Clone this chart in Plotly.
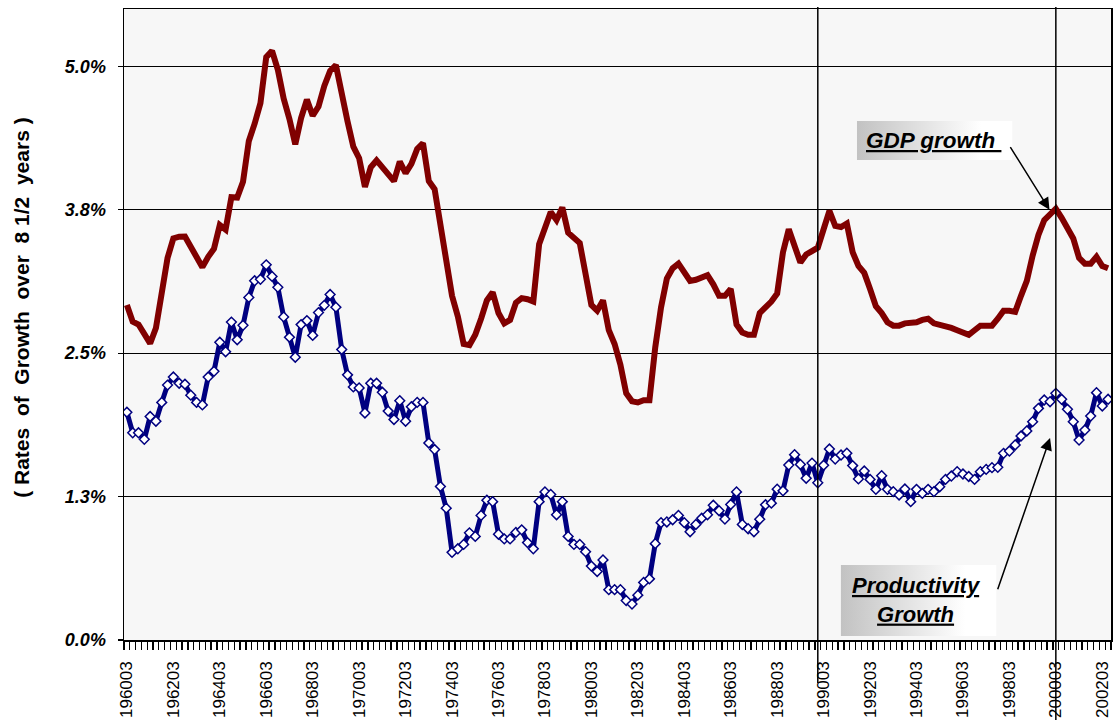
import plotly.graph_objects as go

# ---- data -------------------------------------------------------------
quarters = [f"{y}{m:02d}" for y in range(1960, 2003) for m in (3, 6, 9, 12)][:170]

gdp_growth = [
    2.92, 2.775, 2.75, 2.655, 2.585, 2.72, 2.99, 3.33, 3.50, 3.515,
    3.516, 3.43, 3.33, 3.25, 3.34, 3.41, 3.617, 3.577, 3.86, 3.856,
    3.995, 4.35, 4.50, 4.68, 5.08, 5.135, 4.97, 4.72, 4.54, 4.32,
    4.55, 4.71, 4.57, 4.65, 4.83, 4.96, 5.01, 4.73, 4.52, 4.30,
    4.20, 3.95, 4.12, 4.18, 4.12, 4.04, 4.00, 4.17, 4.07, 4.15,
    4.28, 4.33, 4.00, 3.93, 3.62, 3.38, 3.00, 2.82, 2.58, 2.57,
    2.66, 2.80, 2.96, 3.03, 2.85, 2.76, 2.79, 2.94, 2.98, 2.97,
    2.95, 3.45, 3.59, 3.73, 3.66, 3.77, 3.55, 3.51, 3.46, 3.19,
    2.92, 2.87, 2.96, 2.70, 2.58, 2.40, 2.15, 2.08, 2.07, 2.09,
    2.09, 2.55, 2.90, 3.15, 3.24, 3.28, 3.20, 3.13, 3.14, 3.16,
    3.18, 3.10, 3.00, 3.00, 3.06, 2.75, 2.68, 2.66, 2.66, 2.85,
    2.90, 2.95, 3.02, 3.38, 3.58, 3.45, 3.29, 3.36, 3.39, 3.42,
    3.58, 3.74, 3.61, 3.60, 3.63, 3.38, 3.26, 3.20, 3.06, 2.91,
    2.85, 2.77, 2.74, 2.74, 2.76, 2.76, 2.77, 2.79, 2.80, 2.76,
    2.75, 2.74, 2.72, 2.70, 2.68, 2.66, 2.70, 2.74, 2.74, 2.74,
    2.80, 2.87, 2.87, 2.86, 3.00, 3.13, 3.35, 3.53, 3.66, 3.72,
    3.76, 3.68, 3.60, 3.50, 3.33, 3.28, 3.28, 3.34, 3.26, 3.24,
]

productivity_growth = [
    1.985, 1.806, 1.806, 1.749, 1.948, 1.907, 2.071, 2.222, 2.292, 2.238,
    2.229, 2.134, 2.071, 2.049, 2.292, 2.342, 2.595, 2.513, 2.771, 2.617,
    2.743, 2.986, 3.131, 3.144, 3.270, 3.169, 3.074, 2.816, 2.639, 2.465,
    2.749, 2.784, 2.655, 2.854, 2.917, 3.011, 2.901, 2.532, 2.311, 2.206,
    2.197, 1.979, 2.238, 2.238, 2.159, 1.995, 1.922, 2.086, 1.907, 2.033,
    2.071, 2.071, 1.717, 1.660, 1.338, 1.149, 0.764, 0.795, 0.833, 0.934,
    0.903, 1.086, 1.218, 1.206, 0.922, 0.881, 0.881, 0.938, 0.960, 0.849,
    0.795, 1.206, 1.291, 1.269, 1.092, 1.206, 0.903, 0.833, 0.833, 0.770,
    0.644, 0.597, 0.698, 0.439, 0.439, 0.439, 0.344, 0.313, 0.391, 0.502,
    0.533, 0.840, 1.023, 1.029, 1.048, 1.086, 1.023, 0.944, 1.007, 1.061,
    1.092, 1.174, 1.127, 1.054, 1.181, 1.291, 1.007, 0.970, 0.944, 1.053,
    1.179, 1.193, 1.315, 1.300, 1.525, 1.615, 1.530, 1.410, 1.542, 1.370,
    1.523, 1.665, 1.577, 1.612, 1.628, 1.520, 1.404, 1.473, 1.400, 1.313,
    1.432, 1.313, 1.293, 1.264, 1.316, 1.206, 1.313, 1.278, 1.313, 1.293,
    1.336, 1.400, 1.429, 1.467, 1.447, 1.425, 1.400, 1.467, 1.487, 1.502,
    1.505, 1.627, 1.647, 1.700, 1.778, 1.822, 1.903, 2.019, 2.092, 2.077,
    2.150, 2.098, 2.011, 1.903, 1.743, 1.830, 1.952, 2.156, 2.040, 2.098,
]

y_tick_values = [0.0, 1.25, 2.5, 3.75, 5.0]
y_tick_labels = ["0.0%", "1.3%", "2.5%", "3.8%", "5.0%"]
x_label_step = 8
marked_quarters = ["198912", "200003"]   # vertical reference lines

assert len(gdp_growth) == len(quarters) == len(productivity_growth)

# ---- figure -----------------------------------------------------------
idx = list(range(len(quarters)))
FONT = "Liberation Sans, Arial, sans-serif"

fig = go.Figure()


def gradient_box(x0, x1, y0, y1):
    return go.Scatter(
        x=[x0, x1, x1, x0, x0], y=[y0, y0, y1, y1, y0],
        mode="lines", line=dict(width=0, color="rgba(0,0,0,0)"),
        fill="toself",
        fillgradient=dict(type="horizontal",
                          colorscale=[[0, "#c2c2c2"], [0.8, "#ffffff"], [1, "#ffffff"]]),
        hoverinfo="skip", showlegend=False,
    )


fig.add_trace(go.Scatter(
    x=idx, y=gdp_growth, mode="lines", name="GDP growth",
    line=dict(color="#800000", width=6), showlegend=False,
))
fig.add_trace(go.Scatter(
    x=idx, y=productivity_growth, mode="lines+markers", name="Productivity Growth",
    line=dict(color="#000080", width=5),
    marker=dict(symbol="diamond", size=7.5, color="white",
                line=dict(color="#000080", width=1.5)),
    showlegend=False,
))

# label boxes
fig.add_trace(gradient_box(125.75, 152.5, 4.184, 4.524))
fig.add_trace(gradient_box(122.98, 149.73, 0.035, 0.654))

fig.add_annotation(x=138.9, y=4.35, xref="x", yref="y", showarrow=False,
                   text="<b><i><u>GDP growth\u00a0</u></i></b>",
                   font=dict(family=FONT, size=22.5, color="black"))
fig.add_annotation(x=136.0, y=0.345, xref="x", yref="y", showarrow=False,
                   text="<b><i><u>Productivity</u><br><u>Growth</u></i></b>",
                   font=dict(family=FONT, size=22, color="black"))

# arrows
fig.add_annotation(x=158.9, y=3.75, ax=152.0, ay=4.31, xref="x", yref="y",
                   axref="x", ayref="y", text="", showarrow=True,
                   arrowhead=2, arrowsize=1.6, arrowwidth=1.5, arrowcolor="black",
                   standoff=0)
fig.add_annotation(x=159.0, y=1.76, ax=149.9, ay=0.43, xref="x", yref="y",
                   axref="x", ayref="y", text="", showarrow=True,
                   arrowhead=2, arrowsize=1.6, arrowwidth=1.5, arrowcolor="black",
                   standoff=0)

# vertical lines
for q, ybot in zip(marked_quarters, [-0.068, -0.13]):
    xi = quarters.index(q)
    fig.add_shape(type="line", xref="x", yref="paper", x0=xi, x1=xi,
                  y0=ybot, y1=1.003, line=dict(color="black", width=1.5),
                  layer="above")

# y-axis title
fig.add_annotation(
    x=-0.104, y=0.527, xref="paper", yref="paper", showarrow=False,
    textangle=-90, xanchor="center", yanchor="middle",
    text="<b>(\u00a0Rates\u00a0\u00a0of\u00a0\u00a0Growth\u00a0\u00a0over\u00a0\u00a08 1/2\u00a0\u00a0years\u00a0)</b>",
    font=dict(family=FONT, size=21, color="black"),
)

fig.update_layout(
    width=1115, height=720,
    margin=dict(l=124, r=4, t=9, b=80, autoexpand=False),
    paper_bgcolor="white", plot_bgcolor="#f7f7f7",
    font=dict(family=FONT, color="black"),
    hovermode=False,
)

fig.update_xaxes(
    automargin=False,
    range=[-0.5, len(quarters) - 0.5],
    tickmode="array",
    tickvals=idx[::x_label_step],
    ticktext=quarters[::x_label_step],
    tickangle=-90,
    tickfont=dict(family=FONT, size=17, color="black"),
    ticks="",
    ticklabelstandoff=13,
    minor=dict(ticks="outside", tickmode="linear", tick0=-0.5, dtick=1,
               ticklen=8, tickwidth=1.3, tickcolor="black", showgrid=False),
    showgrid=False, zeroline=False,
    showline=True, mirror=True, linecolor="black", linewidth=1.5,
)

fig.update_yaxes(
    automargin=False,
    range=[0, 5.5],
    tickmode="array", tickvals=y_tick_values, ticktext=y_tick_labels,
    tickfont=dict(family=FONT, size=18, color="black", weight="bold", style="italic"),
    ticks="outside", ticklen=5, tickcolor="black", tickwidth=1.3,
    ticklabelstandoff=8,
    showgrid=True, gridcolor="black", gridwidth=1,
    zeroline=False,
    showline=True, mirror=True, linecolor="black", linewidth=1.5,
)

fig.write_html(
    "out.html",
    config={"displayModeBar": False, "staticPlot": True},
    post_script="document.body.style.margin='0';document.body.style.overflow='hidden';",
)
